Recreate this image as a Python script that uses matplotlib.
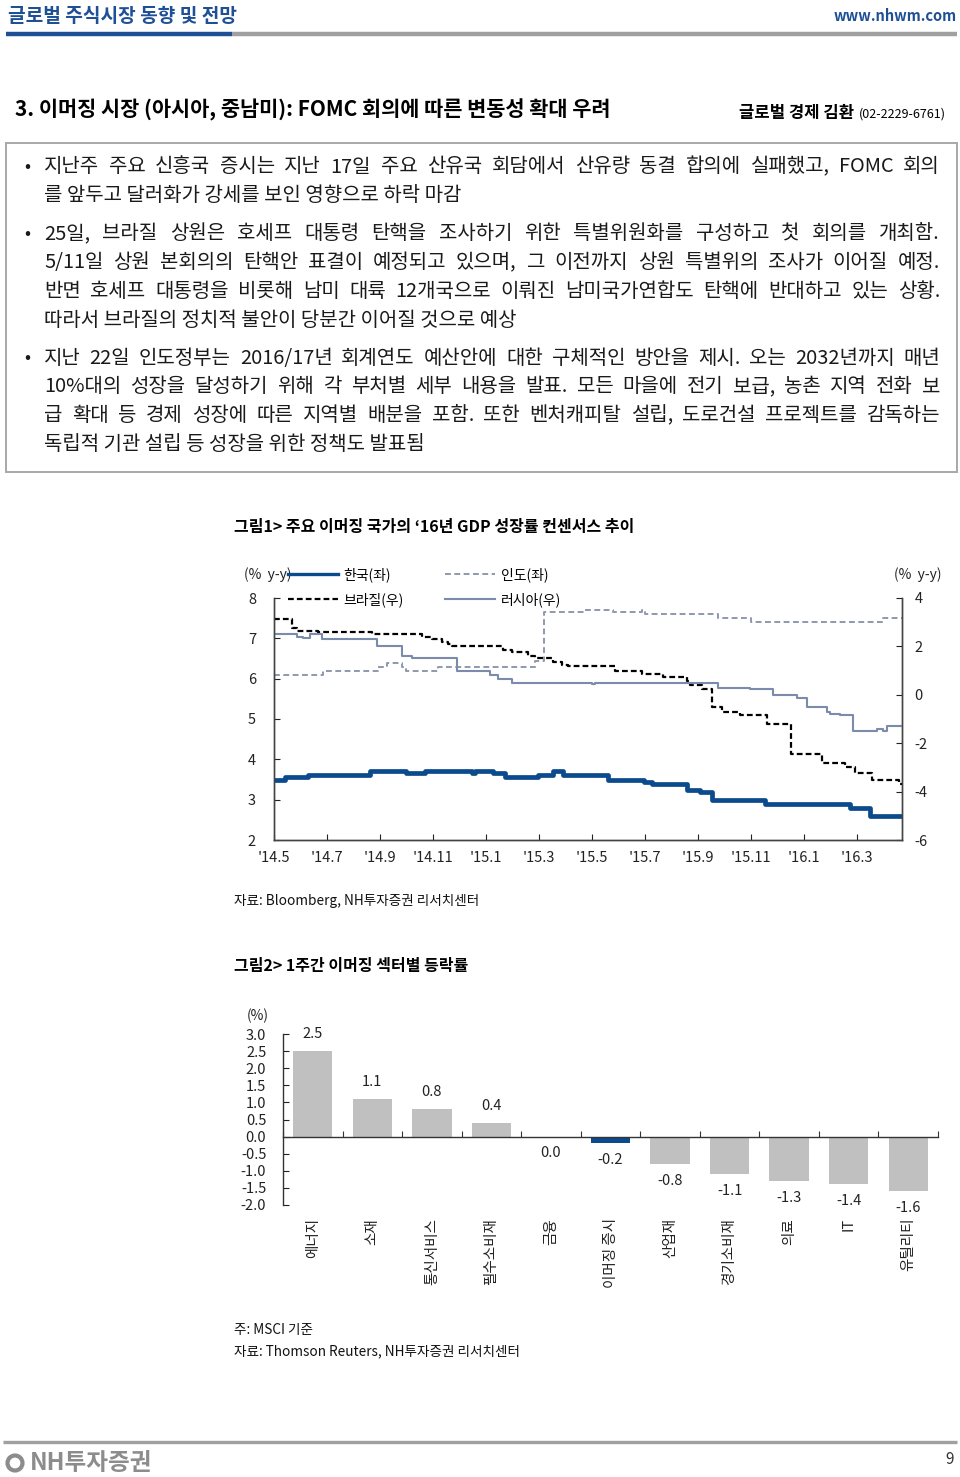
import matplotlib
matplotlib.use("Agg")
import matplotlib.pyplot as plt
import numpy as np
from matplotlib.lines import Line2D
from matplotlib.patches import Rectangle, Circle

plt.rcParams['font.family'] = ['Noto Sans CJK KR', 'DejaVu Sans']
plt.rcParams['axes.unicode_minus'] = False

# -----------------------------
# DATA
# -----------------------------
# chart 1: months since May 2014, step change points
korea_m = [0, 0.43, 1.3, 3.63, 5.0, 5.7, 7.46, 7.58, 8.28, 8.72, 9.97, 10.54, 10.92, 12.62, 13.95, 14.25,
           15.6, 16.08, 16.52, 18.53, 21.74, 22.5, 23.7]
korea_v = [3.5, 3.55, 3.6, 3.7, 3.65, 3.7, 3.65, 3.7, 3.65, 3.55, 3.6, 3.7, 3.6, 3.5, 3.45, 3.4,
           3.25, 3.2, 3.0, 2.9, 2.8, 2.6, 2.6]

india_m = [0, 1.86, 3.94, 4.25, 4.82, 5.0, 6.2, 9.85, 10.2, 11.7, 12.8, 13.88, 14.0, 16.75, 18.0, 22.93, 23.7]
india_v = [6.1, 6.2, 6.3, 6.4, 6.3, 6.2, 6.3, 6.45, 7.65, 7.7, 7.65, 7.7, 7.6, 7.5, 7.4, 7.5, 7.5]

brazil_m = [0, 0.67, 0.86, 1.67, 3.69, 5.57, 5.95, 6.33, 6.58, 6.7, 8.65, 8.97, 9.6, 9.85, 10.54, 10.85,
            11.1, 12.87, 13.88, 14.69, 15.57, 15.7, 16.14, 16.52, 16.9, 17.6, 18.6, 19.5, 20.67, 21.55,
            21.93, 22.56, 23.6, 23.7]
brazil_v = [3.15, 2.75, 2.65, 2.6, 2.5, 2.4, 2.3, 2.2, 2.1, 2.0, 1.85, 1.75, 1.6, 1.5, 1.35, 1.25,
            1.2, 1.0, 0.85, 0.75, 0.55, 0.4, 0.25, -0.5, -0.7, -0.85, -1.2, -2.45, -2.8, -3.0,
            -3.25, -3.5, -3.7, -3.7]

russia_m = [0, 0.86, 1.1, 1.36, 1.8, 3.87, 4.82, 5.2, 6.9, 8.15, 8.47, 8.97, 12.0, 12.1, 16.77, 17.97,
            18.85, 19.73, 20.1, 20.86, 21.0, 21.36, 21.85, 22.75, 23.0, 23.12, 23.7]
russia_v = [2.5, 2.4, 2.35, 2.5, 2.3, 2.0, 1.6, 1.5, 1.0, 0.8, 0.65, 0.5, 0.45, 0.5, 0.3, 0.25,
            0.0, -0.15, -0.5, -0.7, -0.8, -0.85, -1.5, -1.4, -1.5, -1.3, -1.3]

month_labels = ["'14.5", "'14.7", "'14.9", "'14.11", "'15.1", "'15.3", "'15.5", "'15.7",
                "'15.9", "'15.11", "'16.1", "'16.3"]
left_ticks = [2, 3, 4, 5, 6, 7, 8]
right_ticks = [-6, -4, -2, 0, 2, 4]

# chart 2: weekly sector change
sectors = ['에너지', '소재', '통신서비스', '필수소비재', '금융', '이머징 증시',
           '산업재', '경기소비재', '의료', 'IT', '유틸리티']
changes = [2.5, 1.1, 0.8, 0.4, 0.0, -0.2, -0.8, -1.1, -1.3, -1.4, -1.6]
bar_ticks = [-2.0, -1.5, -1.0, -0.5, 0.0, 0.5, 1.0, 1.5, 2.0, 2.5, 3.0]

# body text
paragraphs = [
    ["지난주 주요 신흥국 증시는 지난 17일 주요 산유국 회담에서 산유량 동결 합의에 실패했고, FOMC 회의",
     "를 앞두고 달러화가 강세를 보인 영향으로 하락 마감"],
    ["25일, 브라질 상원은 호세프 대통령 탄핵을 조사하기 위한 특별위원화를 구성하고 첫 회의를 개최함.",
     "5/11일 상원 본회의의 탄핵안 표결이 예정되고 있으며, 그 이전까지 상원 특별위의 조사가 이어질 예정.",
     "반면 호세프 대통령을 비롯해 남미 대륙 12개국으로 이뤄진 남미국가연합도 탄핵에 반대하고 있는 상황.",
     "따라서 브라질의 정치적 불안이 당분간 이어질 것으로 예상"],
    ["지난 22일 인도정부는 2016/17년 회계연도 예산안에 대한 구체적인 방안을 제시. 오는 2032년까지 매년",
     "10%대의 성장을 달성하기 위해 각 부처별 세부 내용을 발표. 모든 마을에 전기 보급, 농촌 지역 전화 보",
     "급 확대 등 경제 성장에 따른 지역별 배분을 포함. 또한 벤처캐피탈 설립, 도로건설 프로젝트를 감독하는",
     "독립적 기관 설립 등 성장을 위한 정책도 발표됨"],
]

# -----------------------------
# STYLE
# -----------------------------
W, H = 960, 1477
HEAD_BLUE = '#1f5096'
KOREA_C = '#0b4a8c'
INDIA_C = '#8e99ad'
RUSSIA_C = '#7a8bab'
BAR_GRAY = '#c0c0c0'
TXT = '#1a1a1a'
TICK_FS = 10.5

fig = plt.figure(figsize=(W / 100, H / 100), dpi=100)
bg = fig.add_axes([0, 0, 1, 1], zorder=-1)
bg.set_xlim(0, W)
bg.set_ylim(H, 0)
bg.axis('off')
renderer = fig.canvas.get_renderer()

# -----------------------------
# PAGE HEADER
# -----------------------------
bg.text(8, 16, '글로벌 주식시장 동향 및 전망', fontsize=13.8, weight='bold', color=HEAD_BLUE, va='center')
bg.text(957, 16, 'www.nhwm.com', fontsize=10.5, weight='bold', color=HEAD_BLUE, va='center', ha='right')
bg.plot([6, 232], [34, 34], color=HEAD_BLUE, lw=3.2, solid_capstyle='butt')
bg.plot([232, 957], [34, 34], color='#a0a0a0', lw=3.2, solid_capstyle='butt')

bg.text(15, 110, '3. 이머징 시장 (아시아, 중남미): FOMC 회의에 따른 변동성 확대 우려',
        fontsize=15, weight='bold', color='black', va='center')
bg.text(946, 114, '(02-2229-6761)', fontsize=9, color='black', va='center', ha='right')
bg.text(854, 113, '글로벌 경제 김환', fontsize=12, weight='bold', color='black', va='center', ha='right')

# -----------------------------
# TEXT BOX
# -----------------------------
bg.add_patch(Rectangle((6, 143), 951, 329, fill=False, edgecolor='#a8a8a8', lw=1.4))


def put_line(text, y, justify, size=14.4):
    if not justify:
        bg.text(44, y, text, fontsize=size, va='center', ha='left', color=TXT)
        return
    words = text.split(' ')
    arts = [bg.text(0, y, w, fontsize=size, va='center', ha='left', color=TXT) for w in words]
    widths = [a.get_window_extent(renderer).width for a in arts]
    gap = (940 - 44 - sum(widths)) / (len(words) - 1)
    x = 44
    for a, w in zip(arts, widths):
        a.set_x(x)
        x += w + gap


y = 167
for para in paragraphs:
    bg.text(27, y, '•', fontsize=13, va='center', ha='center', color=TXT)
    for i, line in enumerate(para):
        put_line(line, y, i < len(para) - 1)
        y += 28.7
    y += 9.5

# -----------------------------
# CHART 1
# -----------------------------
bg.text(234, 527, '그림1> 주요 이머징 국가의 ‘16년 GDP 성장률 컨센서스 추이', fontsize=11.5,
        weight='bold', color='black', va='center')

ax1 = fig.add_axes([274 / W, 1 - 840 / H, 628 / W, 242 / H])
ax1r = ax1.twinx()

ax1.step(korea_m, korea_v, where='post', color=KOREA_C, lw=3.4, zorder=5)
ax1.step(india_m, india_v, where='post', color=INDIA_C, lw=1.4, ls=(0, (3, 1.8)))
ax1r.step(brazil_m, brazil_v, where='post', color='black', lw=1.6, ls=(0, (2.6, 1.4)))
ax1r.step(russia_m, russia_v, where='post', color=RUSSIA_C, lw=1.5)

ax1.set_xlim(0, 23.7)
ax1.set_ylim(2, 8)
ax1r.set_ylim(-6, 4)
ax1.set_xticks(range(0, 24, 2))
ax1.set_xticklabels(month_labels)
ax1.set_yticks(left_ticks)
ax1r.set_yticks(right_ticks)
for a in (ax1, ax1r):
    a.spines['top'].set_visible(False)
    for s in a.spines.values():
        s.set_color('#444444')
        s.set_linewidth(1)
    a.patch.set_visible(False)
ax1.tick_params(axis='x', direction='in', length=4, labelsize=TICK_FS, pad=8, colors='#222222')
ax1.tick_params(axis='y', direction='in', length=4, labelsize=TICK_FS, pad=13, colors='#222222')
ax1r.tick_params(axis='y', direction='in', length=4, labelsize=TICK_FS, pad=9, colors='#222222')

bg.text(268, 575, '(%  y-y)', fontsize=10, va='center', ha='center', color='#222222')
bg.text(918, 575, '(%  y-y)', fontsize=10, va='center', ha='center', color='#222222')

handles = [
    Line2D([], [], color=KOREA_C, lw=2.4),
    Line2D([], [], color='black', lw=1.6, ls=(0, (2.6, 1.4))),
    Line2D([], [], color=INDIA_C, lw=1.4, ls=(0, (3, 1.8))),
    Line2D([], [], color=RUSSIA_C, lw=1.5),
]
labels = ['한국(좌)', '브라질(우)', '인도(좌)', '러시아(우)']
ax1r.legend(handles, labels, ncol=2, loc='upper left', bbox_to_anchor=(288 / W, 1 - 567 / H),
            bbox_transform=fig.transFigure, frameon=False, fontsize=10, handlelength=3.6,
            handletextpad=0.4, columnspacing=3.0, labelspacing=0.75, borderpad=0, borderaxespad=0)

bg.text(234, 901, '자료: Bloomberg, NH투자증권 리서치센터', fontsize=9.8, va='center', color='#111111')

# -----------------------------
# CHART 2
# -----------------------------
bg.text(234, 966, '그림2> 1주간 이머징 섹터별 등락률', fontsize=11.5, weight='bold', color='black', va='center')

ax2 = fig.add_axes([283 / W, 1 - 1205 / H, 655 / W, 171 / H])
pos = np.arange(len(sectors))
colors = [KOREA_C if s == '이머징 증시' else BAR_GRAY for s in sectors]
ax2.bar(pos, changes, width=0.66, color=colors)
ax2.set_xlim(-0.5, len(sectors) - 0.5)
ax2.set_ylim(-2, 3)
ax2.set_yticks(bar_ticks)
ax2.set_yticklabels([f'{t:.1f}' for t in bar_ticks])
ax2.set_xticks(np.arange(len(sectors) + 1) - 0.5)
ax2.set_xticklabels([])
ax2.spines['top'].set_visible(False)
ax2.spines['right'].set_visible(False)
ax2.spines['bottom'].set_position(('data', 0))
for s in ('left', 'bottom'):
    ax2.spines[s].set_color('#333333')
    ax2.spines[s].set_linewidth(1)
ax2.tick_params(axis='y', direction='in', length=4, labelsize=TICK_FS, pad=12, colors='#222222')
ax2.tick_params(axis='x', direction='in', length=4, colors='#333333')
ax2.patch.set_visible(False)

for p, v in zip(pos, changes):
    off = 12.5 if v > 0 else -12
    ax2.annotate(f'{v:.1f}', (p, v), xytext=(0, off), textcoords='offset points',
                 ha='center', va='center', fontsize=TICK_FS, color='#222222')

for p, s in zip(pos, sectors):
    ax2.text(p, -0.075, s, transform=ax2.get_xaxis_transform(), rotation=90, ha='center', va='top',
             fontsize=10.5, color='#222222')

bg.text(258, 1016, '(%)', fontsize=10, va='center', ha='center', color='#222222')

bg.text(234, 1330, '주: MSCI 기준', fontsize=9.8, va='center', color='#111111')
bg.text(234, 1351, '자료: Thomson Reuters, NH투자증권 리서치센터', fontsize=9.8, va='center', color='#111111')

# -----------------------------
# FOOTER
# -----------------------------
bg.plot([3, 957], [1442, 1442], color='#a0a0a0', lw=2.4, solid_capstyle='butt')
bg.add_patch(Circle((15, 1463), 7.5, fill=False, edgecolor='#8c8c8c', lw=3))
bg.text(30, 1463, 'NH투자증권', fontsize=17, weight='bold', color='#8c8c8c', va='center')
bg.text(950, 1460, '9', fontsize=11, color='#333333', va='center', ha='center')

fig.savefig('out.png', dpi=100)
